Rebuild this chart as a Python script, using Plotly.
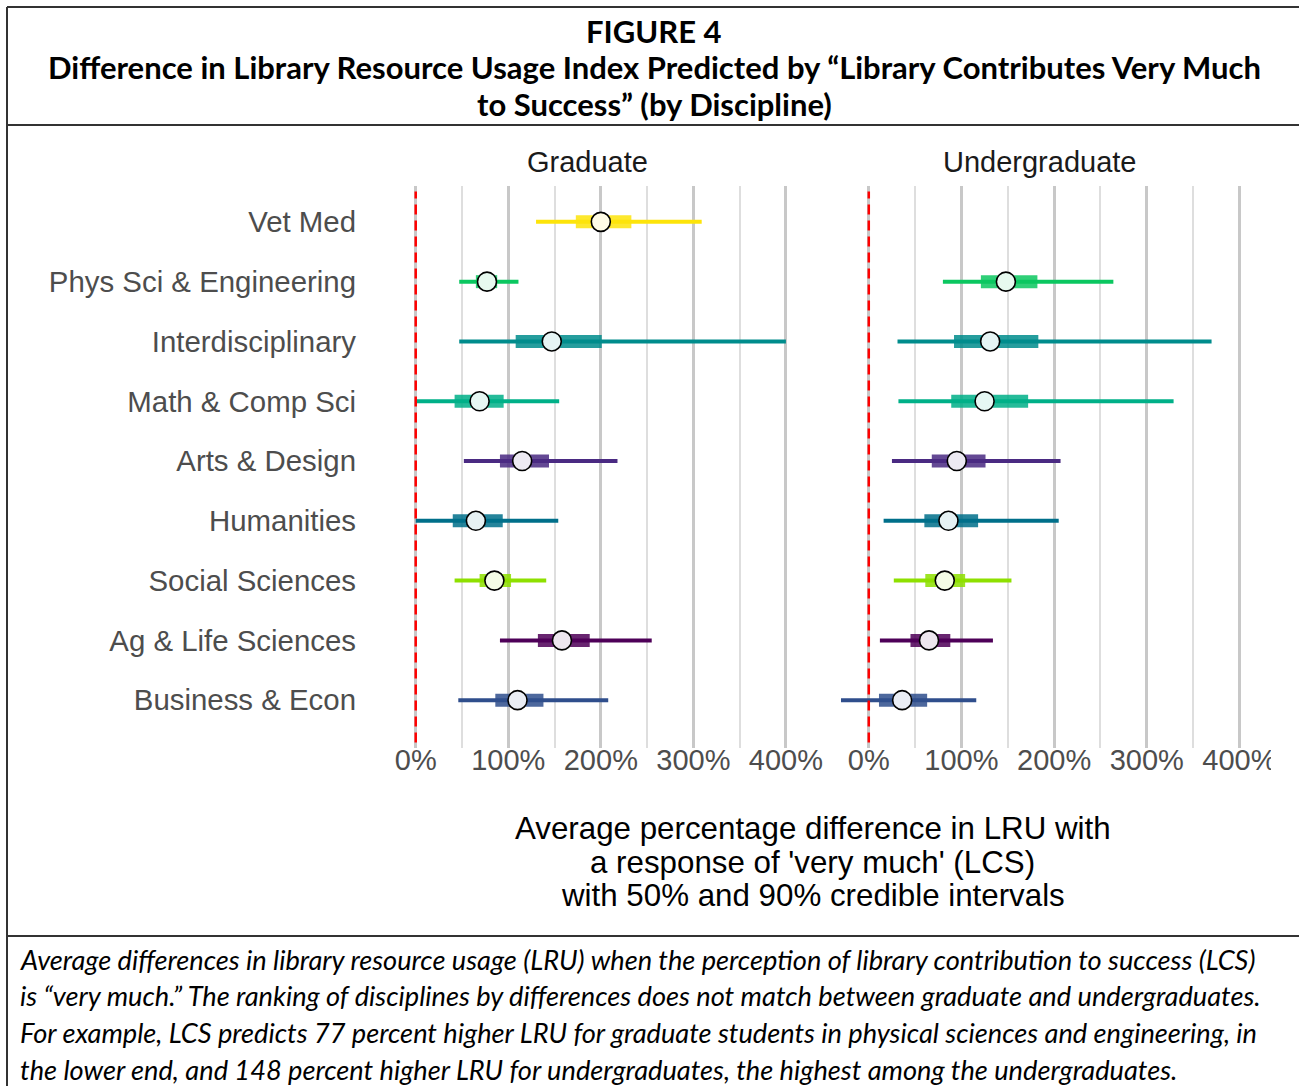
import plotly.graph_objects as go
from plotly.subplots import make_subplots

# 学科（自上而下）
disciplines = ["Vet Med", "Phys Sci & Engineering", "Interdisciplinary", "Math & Comp Sci",
               "Arts & Design", "Humanities", "Social Sciences", "Ag & Life Sciences",
               "Business & Econ"]

# Graduate: 中位数、90% 区间、50% 区间（%）
grad_med = [200, 77, 147, 69, 115, 65, 85, 158, 110]
grad_lo90 = [130, 47, 47, 1, 52, 0, 42, 91, 46]
grad_hi90 = [309, 111, 400, 155, 218, 154, 141, 255, 208]
grad_lo50 = [173, 65, 108, 42, 91, 40, 69, 132, 86]
grad_hi50 = [233, 88, 201, 95, 144, 94, 103, 188, 138]

# Undergraduate（Vet Med 无数据）
ug_med = [None, 148, 131, 125, 95, 86, 82, 65, 36]
ug_lo90 = [None, 80, 31, 32, 25, 16, 27, 12, -30]
ug_hi90 = [None, 264, 370, 329, 207, 205, 154, 134, 116]
ug_lo50 = [None, 121, 92, 89, 68, 60, 61, 45, 11]
ug_hi50 = [None, 182, 183, 172, 126, 118, 104, 88, 63]

tick_vals = [0, 100, 200, 300, 400]
tick_text = ["0%", "100%", "200%", "300%", "400%"]
minor_vals = [-50, 50, 150, 250, 350]

colors = ["#FDE40A", "#0BC760", "#008C8C", "#00B088", "#4A2A82",
          "#006F8A", "#8EE000", "#4E0058", "#2F4E8C"]

W, H = 1299, 1086


def px(x):
    return x / W


def py(y):
    return 1 - y / H


def tint(hexcol, k=0.9):
    r, g, b = (int(hexcol[i:i + 2], 16) for i in (1, 3, 5))
    r, g, b = (round(c + (255 - c) * k) for c in (r, g, b))
    return f"rgb({r},{g},{b})"


fig = make_subplots(rows=1, cols=2, horizontal_spacing=0)
n = len(disciplines)

panels = [
    (1, grad_med, grad_lo90, grad_hi90, grad_lo50, grad_hi50),
    (2, ug_med, ug_lo90, ug_hi90, ug_lo50, ug_hi50),
]
for col, med, lo90, hi90, lo50, hi50 in panels:
    for i, name in enumerate(disciplines):
        if med[i] is None:
            continue
        yy = n - i
        c = colors[i]
        fig.add_trace(go.Scatter(
            x=[lo90[i], hi90[i]], y=[yy, yy], mode="lines",
            line=dict(color=c, width=4), hoverinfo="skip",
        ), row=1, col=col)
        fig.add_trace(go.Scatter(
            x=[lo50[i], hi50[i]], y=[yy, yy], mode="lines",
            line=dict(color=c, width=13), opacity=0.85, hoverinfo="skip",
        ), row=1, col=col)
        fig.add_trace(go.Scatter(
            x=[med[i]], y=[yy], mode="markers",
            marker=dict(size=19, color=tint(c), line=dict(color="#000000", width=1.6)),
            name=name,
        ), row=1, col=col)
    # 0% 红色虚线
    fig.add_shape(type="line", x0=0, x1=0, y0=0.01, y1=0.99,
                  xref=f"x{'' if col == 1 else col}",
                  yref=f"y{'' if col == 1 else col} domain",
                  line=dict(color="#FF0000", width=2.5, dash="10px,6px"))

axis_font = dict(family="Liberation Sans, Arial, sans-serif", size=29, color="#4D4D4D")
for col, dom in [(1, [px(369), px(822)]), (2, [px(822), px(1275.5)])]:
    fig.update_xaxes(
        domain=dom, range=[-50.5, 439], tickvals=tick_vals, ticktext=tick_text,
        showgrid=True, gridcolor="#C8C8C8", gridwidth=2.6,
        minor=dict(tickvals=minor_vals, showgrid=True, gridcolor="#DEDEDE", gridwidth=1.6),
        zeroline=False, showline=False, ticks="", tickfont=axis_font,
        ticklabelstandoff=-8,
        row=1, col=col,
    )
    fig.update_yaxes(
        domain=[py(748), py(186)], range=[0.2, n + 0.6],
        tickvals=list(range(n, 0, -1)), ticktext=disciplines,
        showticklabels=(col == 1), showgrid=False, zeroline=False, ticks="",
        ticklabelstandoff=12, tickfont=dict(axis_font, size=29.4),
        row=1, col=col,
    )

annotations = []


def note(x, y, text, font, xanchor="center"):
    annotations.append(dict(x=px(x), y=py(y), xref="paper", yref="paper", text=text,
                            showarrow=False, xanchor=xanchor, yanchor="middle", font=font))


# 分面标题
strip_font = dict(family="Liberation Sans, Arial", size=29, color="#1A1A1A")
note(587, 162, "Graduate", strip_font)
note(1039, 162, "Undergraduate", strip_font)

# x 轴标题
xt_font = dict(family="Liberation Sans, Arial", size=31.3, color="#000000")
note(812.5, 828, "Average percentage difference in LRU with", xt_font)
note(812.5, 862, "a response of 'very much' (LCS)", xt_font)
note(812.5, 895, "with 50% and 90% credible intervals", xt_font)

# 图标题
title_font = dict(family="Lato, sans-serif", size=31, color="#000000")
note(654, 31, "<b>FIGURE 4</b>", title_font)
note(654, 67, "<b>Difference in Library Resource Usage Index Predicted by “Library Contributes Very Much</b>", title_font)
note(654, 104, "<b>to Success” (by Discipline)</b>", title_font)

# 注释
cap_font = dict(family="Lato, sans-serif", size=27.2, color="#000000")
caption = [
    "Average differences in library resource usage (LRU) when the perception of library contribution to success (LCS)",
    "is “very much.” The ranking of disciplines by differences does not match between graduate and undergraduates.",
    "For example, LCS predicts 77 percent higher LRU for graduate students in physical sciences and engineering, in",
    "the lower end, and 148 percent higher LRU for undergraduates, the highest among the undergraduates.",
]
for k, t in enumerate(caption):
    note(18, 959 + 36.7 * k, f"<i>{t}</i>", cap_font, xanchor="left")

shapes = [
    # 裁掉右侧溢出的刻度标签
    dict(type="rect", xref="paper", yref="paper", x0=px(1271), x1=1, y0=py(790), y1=py(738),
         fillcolor="#FFFFFF", line=dict(width=0), layer="above"),
    # 边框
    dict(type="line", xref="paper", yref="paper", x0=px(7), x1=px(7), y0=0, y1=py(7),
         line=dict(color="#333333", width=2)),
    dict(type="line", xref="paper", yref="paper", x0=px(7), x1=1, y0=py(7), y1=py(7),
         line=dict(color="#333333", width=2)),
    dict(type="line", xref="paper", yref="paper", x0=px(7), x1=1, y0=py(125), y1=py(125),
         line=dict(color="#333333", width=2)),
    dict(type="line", xref="paper", yref="paper", x0=px(7), x1=1, y0=py(936), y1=py(936),
         line=dict(color="#333333", width=2)),
]
for s in shapes:
    fig.add_shape(**s)

fig.update_layout(
    width=W, height=H, autosize=False,
    margin=dict(l=0, r=0, t=0, b=0),
    showlegend=False, hovermode="closest",
    paper_bgcolor="#FFFFFF", plot_bgcolor="#FFFFFF",
    annotations=annotations,
    font=dict(family="Liberation Sans, Arial, sans-serif"),
)

fig.write_html("out.html", config={"displayModeBar": False},
               post_script="document.body.style.margin='0';")
